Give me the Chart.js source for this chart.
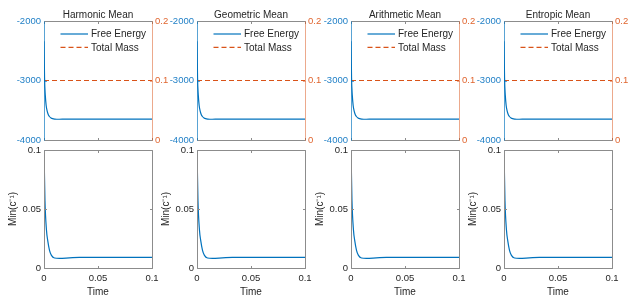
<!DOCTYPE html>
<html>
<head>
<meta charset="utf-8">
<script src="https://cdn.jsdelivr.net/npm/chart.js@4.4.1/dist/chart.umd.min.js"></script>
<style>
  html, body { margin: 0; padding: 0; background: #fff; }
  #wrap { position: relative; width: 639px; height: 298px; overflow: hidden; }
  #wrap canvas { position: absolute; }
</style>
</head>
<body>
<div id="wrap"></div>
<script>
// data (all four panels look the same)
const panelTitles = ['Harmonic Mean', 'Geometric Mean', 'Arithmetic Mean', 'Entropic Mean'];
const energyTime = [0, 0.0005, 0.0012, 0.002, 0.003, 0.004, 0.005, 0.0065, 0.008, 0.010, 0.014, 0.02, 0.05, 0.1];
const freeEnergy = [-2340, -2950, -3250, -3420, -3520, -3575, -3605, -3630, -3642, -3648, -3651, -3650, -3650, -3650];
const massTime = [0, 0.1];
const totalMass = [0.1, 0.1];
const minTime = [0, 0.0009, 0.0023, 0.0035, 0.0051, 0.0069, 0.0097, 0.0143, 0.0235, 0.0327, 0.05, 0.1];
const minInvC = [0.1, 0.057, 0.032, 0.023, 0.015, 0.0107, 0.0085, 0.0082, 0.0086, 0.009, 0.009, 0.009];
const energyTicks = [-4000, -3000, -2000];
const massTicks = [0, 0.1, 0.2];
const minTicks = [0, 0.05, 0.1];
const timeTicks = [0, 0.05, 0.1];

const FONT = "'Liberation Sans', Arial, Helvetica, sans-serif";
const BLUE = '#0072BD';
const ORANGE = '#D95319';
const DARK = '#262626';
const GRAY = '#8c8c8c';
const BLUE_AXIS = 'rgba(0,114,189,0.65)';
const ORANGE_AXIS = 'rgba(217,83,25,0.5)';

const plotLefts = [44, 197, 351, 504];
const plotWidth = 108;
const leftW = 44;
const rightW = 31;
const canvasW = leftW + plotWidth + rightW;

// box, inward tick marks, title and legend, like the matlab axes
const framePlugin = {
  id: 'frame',
  afterDatasetsDraw(chart, args, o) {
    const { ctx, chartArea: a, scales } = chart;
    const px = v => Math.round(v) + 0.5;
    const L = px(a.left), R = px(a.right), T = px(a.top), B = px(a.bottom);
    const line = (x1, y1, x2, y2, c) => {
      ctx.strokeStyle = c;
      ctx.beginPath();
      ctx.moveTo(x1, y1);
      ctx.lineTo(x2, y2);
      ctx.stroke();
    };
    const tk = 2.5;
    ctx.save();
    ctx.lineWidth = 1;
    ctx.setLineDash([]);

    scales.x.ticks.forEach(t => {
      const x = px(scales.x.getPixelForValue(t.value));
      line(x, B, x, B - tk, GRAY);
      line(x, T, x, T + tk, GRAY);
    });
    scales.y.ticks.forEach(t => {
      const y = px(scales.y.getPixelForValue(t.value));
      line(L, y, L + tk, y, o.leftColor);
      if (!scales.y2) line(R, y, R - tk, y, GRAY);
    });
    if (scales.y2) {
      scales.y2.ticks.forEach(t => {
        const y = px(scales.y2.getPixelForValue(t.value));
        line(R, y, R - tk, y, o.rightColor);
      });
    }

    line(L, T, R, T, GRAY);
    line(L, B, R, B, GRAY);
    line(L, T, L, B, o.leftColor);
    line(R, T, R, B, o.rightColor);

    ctx.font = `10px ${FONT}`;
    ctx.fillStyle = DARK;
    if (o.title) {
      ctx.textAlign = 'center';
      ctx.textBaseline = 'alphabetic';
      ctx.fillText(o.title, (a.left + a.right) / 2, a.top - 3.5);
    }

    if (o.legend) {
      ctx.textAlign = 'left';
      ctx.textBaseline = 'middle';
      chart.data.datasets.forEach((ds, i) => {
        const y = a.top + 13 + i * 13.3;
        ctx.strokeStyle = ds.borderColor;
        ctx.lineWidth = ds.borderWidth;
        ctx.setLineDash(ds.borderDash || []);
        ctx.beginPath();
        ctx.moveTo(a.left + 16.5, y);
        ctx.lineTo(a.left + 44, y);
        ctx.stroke();
        ctx.fillStyle = DARK;
        ctx.fillText(ds.label, a.left + 47, y + 0.5);
      });
    }
    ctx.restore();
  }
};

function makeCanvas(x, y, w, h) {
  const c = document.createElement('canvas');
  c.width = w;
  c.height = h;
  c.style.left = x + 'px';
  c.style.top = y + 'px';
  c.style.width = w + 'px';
  c.style.height = h + 'px';
  document.getElementById('wrap').appendChild(c);
  return c;
}

function pts(xs, ys) {
  return xs.map((x, k) => ({ x, y: ys[k] }));
}

function fixedTicks(values) {
  return s => { s.ticks = values.map(v => ({ value: v })); };
}

const tickFont = { family: FONT, size: 9.5 };
const noGrid = { display: false, drawTicks: false };

panelTitles.forEach((title, i) => {
  const x0 = plotLefts[i] - leftW;

  // top row: free energy and total mass
  new Chart(makeCanvas(x0, 0, canvasW, 150), {
    type: 'line',
    data: {
      datasets: [
        {
          label: 'Free Energy',
          data: pts(energyTime, freeEnergy),
          yAxisID: 'y',
          borderColor: BLUE,
          borderWidth: 1.2,
          pointRadius: 0,
          cubicInterpolationMode: 'monotone'
        },
        {
          label: 'Total Mass',
          data: pts(massTime, totalMass),
          yAxisID: 'y2',
          borderColor: ORANGE,
          borderWidth: 1.2,
          borderDash: [5, 3],
          pointRadius: 0
        }
      ]
    },
    options: {
      responsive: false,
      animation: false,
      events: [],
      layout: { padding: { top: 21, left: 0, right: 0, bottom: 0 } },
      plugins: {
        legend: { display: false },
        tooltip: { enabled: false },
        frame: { title, legend: true, leftColor: BLUE_AXIS, rightColor: ORANGE_AXIS }
      },
      scales: {
        x: {
          type: 'linear',
          min: 0,
          max: 0.1,
          afterBuildTicks: fixedTicks(timeTicks),
          afterFit(s) { s.height = 10; },
          ticks: { display: false },
          grid: noGrid,
          border: { display: false }
        },
        y: {
          position: 'left',
          min: -4000,
          max: -2000,
          afterBuildTicks: fixedTicks(energyTicks),
          afterFit(s) { s.width = leftW; },
          ticks: { color: '#1f7fc6', font: tickFont, padding: 3, callback: v => String(v) },
          grid: noGrid,
          border: { display: false }
        },
        y2: {
          position: 'right',
          min: 0,
          max: 0.2,
          afterBuildTicks: fixedTicks(massTicks),
          afterFit(s) { s.width = rightW; },
          ticks: { color: '#e0652f', font: tickFont, padding: 3, callback: v => String(v) },
          grid: noGrid,
          border: { display: false }
        }
      }
    },
    plugins: [framePlugin]
  });

  // bottom row: min(c^-1) over time
  new Chart(makeCanvas(x0, 140, canvasW, 158), {
    type: 'line',
    data: {
      datasets: [
        {
          label: 'Min(c⁻¹)',
          data: pts(minTime, minInvC),
          borderColor: BLUE,
          borderWidth: 1.2,
          pointRadius: 0,
          cubicInterpolationMode: 'monotone'
        }
      ]
    },
    options: {
      responsive: false,
      animation: false,
      events: [],
      layout: { padding: { top: 10, left: 0, right: rightW, bottom: 0 } },
      plugins: {
        legend: { display: false },
        tooltip: { enabled: false },
        frame: { leftColor: GRAY, rightColor: GRAY }
      },
      scales: {
        x: {
          type: 'linear',
          min: 0,
          max: 0.1,
          afterBuildTicks: fixedTicks(timeTicks),
          afterFit(s) { s.height = 30; },
          ticks: { color: DARK, font: tickFont, padding: 5, maxRotation: 0, callback: v => String(v) },
          title: { display: true, text: 'Time', color: DARK, font: { family: FONT, size: 10 }, padding: 0 },
          grid: noGrid,
          border: { display: false }
        },
        y: {
          min: 0,
          max: 0.1,
          afterBuildTicks: fixedTicks(minTicks),
          afterFit(s) { s.width = leftW; },
          ticks: { color: DARK, font: tickFont, padding: 3, callback: v => String(v) },
          title: { display: true, text: 'Min(c⁻¹)', color: DARK, font: { family: FONT, size: 10 }, padding: { top: 7, bottom: 0 } },
          grid: noGrid,
          border: { display: false }
        }
      }
    },
    plugins: [framePlugin]
  });
});
</script>
</body>
</html>
